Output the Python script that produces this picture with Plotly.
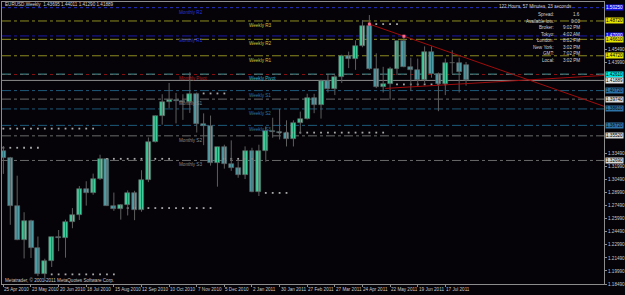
import plotly.graph_objects as go
import pandas as pd

# ---------------- data ----------------
dates = ["2010-04-25","2010-05-02","2010-05-09","2010-05-16","2010-05-23","2010-05-30",
         "2010-06-06","2010-06-13","2010-06-20","2010-06-27","2010-07-04","2010-07-11",
         "2010-07-18","2010-07-25","2010-08-01","2010-08-08","2010-08-15","2010-08-22",
         "2010-08-29","2010-09-05","2010-09-12","2010-09-19","2010-09-26","2010-10-03",
         "2010-10-10","2010-10-17","2010-10-24","2010-10-31","2010-11-07","2010-11-14",
         "2010-11-21","2010-11-28","2010-12-05","2010-12-12","2010-12-19","2010-12-26",
         "2011-01-02","2011-01-09","2011-01-16","2011-01-23","2011-01-30","2011-02-06",
         "2011-02-13","2011-02-20","2011-02-27","2011-03-06","2011-03-13","2011-03-20",
         "2011-03-27","2011-04-03","2011-04-10","2011-04-17","2011-04-24","2011-05-01",
         "2011-05-08","2011-05-15","2011-05-22","2011-05-29","2011-06-05","2011-06-12",
         "2011-06-19","2011-06-26","2011-07-03","2011-07-10","2011-07-17","2011-07-24",
         "2011-07-31","2011-08-07"]
opens = [1.3380,1.3295,1.2750,1.2358,1.2568,1.2265,1.1967,1.2110,1.2385,1.2375,1.2565,1.2640,
         1.2940,1.2900,1.3060,1.3285,1.2750,1.2715,1.2755,1.2895,1.2705,1.3050,1.3485,1.3785,
         1.3945,1.3965,1.3958,1.3940,1.4035,1.3690,1.3670,1.3240,1.3420,1.3225,1.3180,1.3102,
         1.3380,1.2905,1.3380,1.3610,1.3600,1.3580,1.3520,1.3700,1.3750,1.3985,1.3905,1.4185,
         1.4090,1.4230,1.4470,1.4430,1.4580,1.4820,1.4315,1.4118,1.4150,1.4318,1.4637,1.4346,
         1.4307,1.4190,1.4510,1.4263,1.4151,1.4389,1.4395,1.43695]
highs = [1.3435,1.3310,1.3094,1.2674,1.2588,1.2395,1.2140,1.2387,1.2470,1.2589,1.2722,1.2975,
         1.3030,1.3118,1.3335,1.3290,1.2900,1.2767,1.2925,1.2920,1.3157,1.3533,1.3785,1.4030,
         1.4160,1.4045,1.4030,1.4282,1.4050,1.3810,1.3785,1.3420,1.3450,1.3500,1.3260,1.3431,
         1.3415,1.3450,1.3660,1.3760,1.3862,1.3730,1.3730,1.3830,1.4036,1.4035,1.4197,1.4250,
         1.4250,1.4485,1.4520,1.4650,1.4880,1.4940,1.4500,1.4345,1.4345,1.4640,1.4700,1.4450,
         1.4440,1.4580,1.4580,1.4280,1.4440,1.4535,1.4450,1.44011]
lows = [1.3115,1.2530,1.2353,1.2143,1.2148,1.1940,1.1876,1.2045,1.2226,1.2152,1.2490,1.2585,
        1.2750,1.2875,1.3045,1.2745,1.2690,1.2589,1.2637,1.2583,1.2680,1.3020,1.3475,1.3680,
        1.3870,1.3695,1.3735,1.3815,1.3590,1.3445,1.3210,1.2968,1.3175,1.3150,1.3070,1.3055,
        1.2904,1.2860,1.3255,1.3530,1.3510,1.3430,1.3430,1.3585,1.3740,1.3812,1.3750,1.4050,
        1.4020,1.4160,1.4330,1.4310,1.4570,1.4310,1.4100,1.4050,1.3968,1.4250,1.4340,1.4070,
        1.4120,1.4145,1.4220,1.3835,1.4020,1.4265,1.4050,1.41290]
closes = [1.3295,1.2750,1.2358,1.2568,1.2265,1.1967,1.2110,1.2385,1.2375,1.2565,1.2640,1.2940,
          1.2900,1.3060,1.3285,1.2750,1.2715,1.2755,1.2895,1.2705,1.3050,1.3485,1.3785,1.3945,
          1.3965,1.3958,1.3940,1.4035,1.3690,1.3670,1.3240,1.3420,1.3225,1.3180,1.3102,1.3380,
          1.2905,1.3380,1.3610,1.3600,1.3580,1.3520,1.3700,1.3750,1.3985,1.3905,1.4185,1.4090,
          1.4230,1.4470,1.4430,1.4580,1.4820,1.4315,1.4118,1.4150,1.4318,1.4637,1.4346,1.4307,
          1.4190,1.4510,1.4263,1.4151,1.4389,1.4395,1.4283,1.41889]

pivot_names  = ["Monthly R2","Weekly R3","Monthly R1","Weekly R2","Weekly R1","Monthly Pivot",
                "Weekly Pivot","Weekly S1","Monthly S1","Weekly S2","Weekly S3","Monthly S2","Monthly S3"]
pivot_prices = [1.5025,1.4872,1.4700,1.4661,1.4472,1.4257,1.4261,1.4072,1.3974,1.3861,1.3672,1.3552,1.3269]

dot_prices = [1.3635,1.3415,1.3288,1.2722,1.1960,1.4039,1.3288,1.2896,1.3589,1.4836,1.4143]
dot_start  = ["2010-04-25","2010-04-25","2010-08-08","2010-08-29","2010-06-13","2010-11-14",
              "2010-12-05","2011-01-16","2011-01-30","2011-05-08","2011-05-29"]
dot_end    = ["2010-07-25","2010-05-30","2010-10-10","2010-11-21","2010-08-15","2010-12-05",
              "2011-01-02","2011-02-06","2011-05-15","2011-05-29","2011-07-17"]

trend_down_dates  = ["2011-05-01","2011-06-05"]
trend_down_prices = [1.4836,1.4697]
trend_up_dates    = ["2011-05-17","2011-08-07"]
trend_up_prices   = [1.4097,1.4152]

date_labels = ["25 Apr 2010","23 May 2010","20 Jun 2010","18 Jul 2010","15 Aug 2010","12 Sep 2010",
               "10 Oct 2010","7 Nov 2010","5 Dec 2010","2 Jan 2011","30 Jan 2011","27 Feb 2011",
               "27 Mar 2011","24 Apr 2011","22 May 2011","19 Jun 2011","17 Jul 2011"]
date_label_pos = ["2010-04-25","2010-05-23","2010-06-20","2010-07-18","2010-08-15","2010-09-12",
                  "2010-10-10","2010-11-07","2010-12-05","2011-01-02","2011-01-30","2011-02-27",
                  "2011-03-27","2011-04-24","2011-05-22","2011-06-19","2011-07-17"]

price_ticks = [1.18490,1.19990,1.21490,1.22990,1.24490,1.25990,1.27490,1.28990,1.30490,
               1.31990,1.33490,1.34990,1.36490,1.37990,1.39490,1.40990,1.42490,1.43990,1.45490]

info_labels = ["Spread:","Available lots:","Broker:","Tokyo:","London:","New York:","GMT:","Local:"]
info_values = ["1.6","0.00","9:02 PM","4:02 AM","8:02 PM","3:02 PM","7:02 PM","3:02 PM"]

# ---------------- layout helpers ----------------
W, H = 625, 295
PX_L, PX_R, PX_T, PX_B = 2, 608, 2, 287
first = pd.Timestamp(dates[0])
BAR_PX = 6.95
X0_PX = 3.4
def px_to_date(px):
    return first + pd.Timedelta(days=7 * (px - X0_PX) / BAR_PX)
x_range = [px_to_date(PX_L), px_to_date(PX_R)]
y_range = [1.18484, 1.50902]
PRICE_PER_PX = (y_range[1] - y_range[0]) / (PX_B - PX_T)
def py(p):
    return 1 - p / H
def pxp(p):
    return p / W

BG = "#050308"
FONT = "Liberation Sans"
FS = 4.6

fig = go.Figure()

styles = {
    "Monthly R2": ("#2430c8", "dot", "#2a36d8", "#1414e6", "#ffffff"),
    "Weekly R3": ("#8c8c20", "dashdot", "#c8c83c", "#e6e600", "#000000"),
    "Monthly R1": ("#1a1aa8", "dashdot", "#2a36d8", "#1414e6", "#ffffff"),
    "Weekly R2": ("#8c8c20", "dashdot", "#c8c83c", "#e6e600", "#000000"),
    "Weekly R1": ("#8c8c20", "dashdot", "#c8c83c", "#e6e600", "#000000"),
    "Monthly Pivot": ("#8a1010", "dot", "#b02020", None, None),
    "Weekly Pivot": ("#3a9a9a", "dash", "#30b8c8", "#00e6e6", "#000000"),
    "Weekly S1": ("#1e5a7a", "dashdot", "#2e74a0", "#2e74a8", "#000000"),
    "Monthly S1": ("#6a6a6a", "dashdot", "#8a8a8a", "#d8d8d8", "#000000"),
    "Weekly S2": ("#1e5a7a", "dashdot", "#2e74a0", "#2e74a8", "#000000"),
    "Weekly S3": ("#1e5a7a", "dashdot", "#2e74a0", "#2e74a8", "#000000"),
    "Monthly S2": ("#6a6a6a", "dashdot", "#8a8a8a", "#d8d8d8", "#000000"),
    "Monthly S3": ("#6a6a6a", "dashdot", "#8a8a8a", "#d8d8d8", "#000000"),
}
label_px = {"Monthly": 178, "Weekly": 249}
box_prices = [closes[-1]]
for name, price in zip(pivot_names, pivot_prices):
    lc, dash, tc, bc, btc = styles[name]
    fig.add_shape(type="line", xref="paper", yref="y", x0=pxp(PX_L), x1=pxp(PX_R),
                  y0=price, y1=price, line=dict(color=lc, width=1, dash=dash), layer="below")
    fig.add_annotation(x=px_to_date(label_px[name.split()[0]]), y=price, xref="x", yref="y",
                       text=name, showarrow=False, xanchor="left", yanchor="top", yshift=0,
                       font=dict(family=FONT, size=FS, color=tc))
    if bc:
        box_prices.append(price)
        fig.add_annotation(x=pxp(PX_R + 1), y=price, xref="paper", yref="y", text=f"{price:.5f}",
                           showarrow=False, xanchor="left", yanchor="middle", bgcolor=bc,
                           borderpad=0, font=dict(family=FONT, size=FS, color=btc))

fig.add_shape(type="line", xref="paper", yref="y", x0=pxp(PX_L), x1=pxp(PX_R),
              y0=closes[-1], y1=closes[-1], line=dict(color="#8c8c8c", width=1), layer="below")
fig.add_annotation(x=pxp(PX_R + 1), y=closes[-1], xref="paper", yref="y", text=f"{closes[-1]:.5f}",
                   showarrow=False, xanchor="left", yanchor="middle", bgcolor="#e8e8e8",
                   borderpad=0, font=dict(family=FONT, size=FS, color="#000000"))

# axis labels hidden under the coloured boxes (as MT4 draws them on top)
shown_ticks = [t for t in price_ticks if all(abs(t - b) > 6 * PRICE_PER_PX for b in box_prices)]

# dot rows
for p, s, e in zip(dot_prices, dot_start, dot_end):
    xs = [d for d in dates if s <= d <= e]
    fig.add_trace(go.Scatter(x=xs, y=[p] * len(xs), mode="markers",
                             marker=dict(symbol="square", size=1.8, color="#a8a8a8"),
                             hoverinfo="skip", showlegend=False))

# candles: wicks
wx, wy = [], []
for d, h, l in zip(dates, highs, lows):
    wx += [d, d, None]
    wy += [h, l, None]
fig.add_trace(go.Scatter(x=wx, y=wy, mode="lines", line=dict(color="#5e5e5e", width=1),
                         hoverinfo="skip", showlegend=False))
# candles: bodies
body_base = [min(o, c) for o, c in zip(opens, closes)]
body_len = [abs(c - o) for o, c in zip(opens, closes)]
body_col = ["#3fcf9c" if c >= o else "#4e9ea8" for o, c in zip(opens, closes)]
body_w = 7 * 24 * 3600 * 1000 * 5.0 / BAR_PX
fig.add_trace(go.Bar(x=dates, y=body_len, base=body_base, width=body_w,
                     marker=dict(color=body_col, line=dict(color="#5e5e5e", width=0.6)),
                     hoverinfo="skip", showlegend=False))

def ray(d, p):
    t0, t1 = pd.Timestamp(d[0]), pd.Timestamp(d[1])
    slope = (p[1] - p[0]) / (t1 - t0).total_seconds()
    xe = x_range[1]
    return [t0, xe], [p[0], p[0] + slope * (xe - t0).total_seconds()]
for d, p in ((trend_down_dates, trend_down_prices), (trend_up_dates, trend_up_prices)):
    xs, ys = ray(d, p)
    fig.add_trace(go.Scatter(x=xs, y=ys, mode="lines", line=dict(color="#a00c0c", width=1),
                             hoverinfo="skip", showlegend=False))
fig.add_trace(go.Scatter(x=trend_down_dates, y=trend_down_prices, mode="markers",
                         marker=dict(symbol="square", size=3, color="#ff6a8a"),
                         hoverinfo="skip", showlegend=False))

for lab, d in zip(date_labels, date_label_pos):
    fig.add_annotation(x=d, y=py(292), xref="x", yref="paper", text=lab, showarrow=False,
                       xanchor="left", yanchor="middle", xshift=-1,
                       font=dict(family=FONT, size=FS, color="#c8c8c8"))

fig.add_annotation(x=pxp(3), y=py(5), xref="paper", yref="paper", showarrow=False,
                   text="EURUSD,Weekly  1.43695 1.44011 1.41290 1.41889", xanchor="left",
                   yanchor="middle", font=dict(family=FONT, size=FS, color="#d0d0d0"))
fig.add_annotation(x=pxp(3), y=py(283), xref="paper", yref="paper", showarrow=False,
                   text="Metatrader, © 2001-2011 MetaQuotes Software Corp.", xanchor="left",
                   yanchor="middle", font=dict(family=FONT, size=FS, color="#c8c8c8"))

fig.add_annotation(x=pxp(578), y=py(7), xref="paper", yref="paper", showarrow=False,
                   text="122 Hours, 57 Minutes, 23 seconds", xanchor="right", yanchor="middle",
                   font=dict(family=FONT, size=FS, color="#d0d0d0"))
info_rows_px = [15, 21.5, 28, 34.5, 41, 47.5, 54.5, 61]
for lab, val, yy in zip(info_labels, info_values, info_rows_px):
    fig.add_annotation(x=pxp(560), y=py(yy), xref="paper", yref="paper", showarrow=False,
                       text=lab, xanchor="right", yanchor="middle",
                       font=dict(family=FONT, size=FS, color="#d0d0d0"))
    fig.add_annotation(x=pxp(586), y=py(yy), xref="paper", yref="paper", showarrow=False,
                       text=val, xanchor="right", yanchor="middle",
                       font=dict(family=FONT, size=FS, color="#d0d0d0"))

fig.update_layout(
    width=W, height=H, margin=dict(l=0, r=0, t=0, b=0),
    paper_bgcolor=BG, plot_bgcolor=BG, showlegend=False, bargap=0,
    xaxis=dict(domain=[pxp(PX_L), pxp(PX_R)], range=x_range, type="date",
               showgrid=False, zeroline=False,
               showline=True, linecolor="#8c8c8c", linewidth=1, mirror=True,
               tickvals=date_label_pos, ticks="outside", ticklen=2, tickcolor="#8c8c8c",
               showticklabels=False),
    yaxis=dict(domain=[1 - PX_B / H, 1 - PX_T / H], range=y_range, side="right",
               showgrid=False, zeroline=False, showline=True, linecolor="#8c8c8c",
               linewidth=1, mirror=True, tickvals=shown_ticks,
               ticktext=[f"{v:.5f}" for v in shown_ticks], ticks="outside", ticklen=2,
               tickcolor="#8c8c8c", tickfont=dict(family=FONT, size=FS, color="#c8c8c8")),
)

fig.write_html("out.html")
